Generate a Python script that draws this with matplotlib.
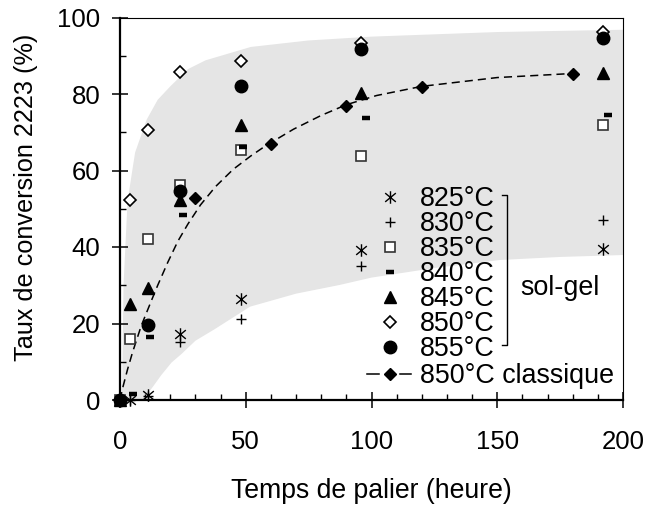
import numpy as np
import matplotlib
matplotlib.use('Agg')
import matplotlib.pyplot as plt
from matplotlib.path import Path
from matplotlib.ticker import MultipleLocator

plt.rcParams['font.family'] = ['Liberation Sans', 'DejaVu Sans']

# donnees
t_sg = [0, 4, 11, 24, 48, 96, 192]
c825 = [0, 0, 1.3, 17.2, 26.4, 39.2, 39.4]
c830 = [0, 0, 1.0, 15.1, 21.2, 35.1, 47.1]
c835 = [0, 15.9, 42.0, 56.2, 65.4, 63.8, 71.9]
t840 = [0, 5, 12, 25, 49, 98, 194]
c840 = [0, 1.5, 16.5, 48.4, 66.1, 73.8, 74.5]
c845 = [0, 25.1, 29.2, 52.3, 71.9, 80.2, 85.6]
c850 = [0, 52.3, 70.6, 85.8, 88.6, 93.4, 96.3]
t855 = [0, 11, 24, 48, 96, 192]
c855 = [0, 19.6, 54.7, 82.2, 91.7, 94.6]

t_cl = [0, 30, 60, 90, 120, 180]
c_cl = [0, 52.9, 66.9, 76.9, 81.8, 85.2]

# courbe en pointilles
fit_t = [0, 1, 3, 5, 8.5, 12.5, 15, 19, 23, 27, 32, 38, 45, 52, 58, 69, 80, 90, 102, 120, 150, 181]
fit_c = [0, 3, 8, 12.5, 19.5, 26, 30, 36, 41.5, 46, 51, 55.8, 60.3, 63.8, 66.5, 70.8, 74.4, 77.2, 79.6, 82, 84.3, 85.4]

# zone grise
up_t = [0.5, 0.9, 1.4, 3, 6, 10.6, 15, 20, 27, 34, 52, 75, 100, 150, 200]
up_c = [0, 5, 30, 52, 64.7, 73.3, 78.5, 82, 86.5, 88.8, 92.3, 94, 95, 96.2, 96.8]
lo_t = [9.5, 12, 14, 16.4, 20.5, 24.4, 30, 37.6, 51.7, 70, 87.5, 100, 125, 151, 175, 200]
lo_c = [0, 2.5, 4.3, 6.5, 9.8, 12, 15.5, 18.5, 24.4, 27.8, 30.1, 32, 34.5, 36.6, 37.4, 37.9]

# asterisque : X + trait vertical
star = Path([(0, -1), (0, 1), (-0.85, -0.7), (0.85, 0.7), (-0.85, 0.7), (0.85, -0.7)],
            [Path.MOVETO, Path.LINETO] * 3)

labels = ['825°C', '830°C', '835°C', '840°C', '845°C', '850°C', '855°C']
series = [(t_sg, c825), (t_sg, c830), (t_sg, c835), (t840, c840),
          (t_sg, c845), (t_sg, c850), (t855, c855)]
styles = [dict(marker=star, ms=9, mew=1.0, color='k', mfc='none'),
          dict(marker='+', ms=7.5, mew=1.0, color='k'),
          dict(marker='s', ms=7.5, mew=1.2, mfc='white', mec='#333333'),
          dict(marker='_', ms=6, mew=3.2, color='k'),
          dict(marker='^', ms=9, color='k'),
          dict(marker='D', ms=5.8, mew=1.2, mfc='white', mec='k'),
          dict(marker='o', ms=9, color='k')]
cl_style = dict(marker='D', ms=6.3, color='k')
dash = (0, (5.3, 3.3))

W, H = 649, 505
def fx(px):
    return px / W
def fy(py):
    return 1 - py / H

fig = plt.figure(figsize=(6.49, 5.05), dpi=100)
ax = fig.add_axes([fx(120), fy(400), 503/W, 382.5/H])

ax.fill(up_t + lo_t[::-1], up_c + lo_c[::-1], color='#e5e5e5', lw=0, zorder=0)
ax.plot(fit_t, fit_c, 'k', ls=dash, lw=1.1, zorder=2)

for (t, c), st in zip(series, styles):
    ax.plot(t, c, ls='none', clip_on=False, zorder=3, **st)
ax.plot(t_cl, c_cl, ls='none', clip_on=False, zorder=3, **cl_style)

ax.set_xlim(0, 200)
ax.set_ylim(0, 100)
ax.xaxis.set_major_locator(MultipleLocator(50))
ax.xaxis.set_minor_locator(MultipleLocator(10))
ax.yaxis.set_major_locator(MultipleLocator(20))
ax.yaxis.set_minor_locator(MultipleLocator(10))
ax.tick_params(which='major', direction='inout', length=11.5, width=1.1, labelsize=18.5)
ax.tick_params(which='minor', direction='in', length=4.5, width=1.0)
ax.tick_params(axis='x', which='major', pad=16)
ax.tick_params(axis='y', which='major', pad=8.5)
for s in ['left', 'bottom']:
    ax.spines[s].set_linewidth(1.6)
for s in ['top', 'right']:
    ax.spines[s].set_linewidth(0.8)

ax.set_xlabel('Temps de palier (heure)', fontsize=19.2, va='baseline')
ax.xaxis.set_label_coords(0.5, (400 - 498) / 382.5)
ax.set_ylabel('Taux de conversion 2223 (%)', fontsize=18.2, va='center')
ax.yaxis.set_label_coords((26.5 - 120) / 503, (400 - 197.5) / 382.5)

# legende construite a la main
for i, (lab, st) in enumerate(zip(labels, styles)):
    base = 206 + 25 * i
    ax.plot([fx(390)], [fy(base - 9.5)], ls='none', transform=fig.transFigure, clip_on=False, **st)
    fig.text(fx(420), fy(base), lab, fontsize=19.4, va='baseline')
base = 383
ax.plot([fx(367), fx(379)], [fy(base - 9.5)] * 2, 'k', lw=1.1, transform=fig.transFigure, clip_on=False)
ax.plot([fx(400), fx(411)], [fy(base - 9.5)] * 2, 'k', lw=1.1, transform=fig.transFigure, clip_on=False)
ax.plot([fx(390)], [fy(base - 9.5)], ls='none', transform=fig.transFigure, clip_on=False, **cl_style)
fig.text(fx(420), fy(base), '850°C classique', fontsize=19.4, va='baseline')

# accolade sol-gel
ax.plot([fx(501.7), fx(506.7), fx(506.7), fx(501.7)], [fy(195), fy(195), fy(345), fy(345)],
        color='k', lw=1.0, transform=fig.transFigure, clip_on=False)
fig.text(fx(520), fy(295), 'sol-gel', fontsize=19.4, va='baseline')

fig.savefig('out.png', dpi=100)
